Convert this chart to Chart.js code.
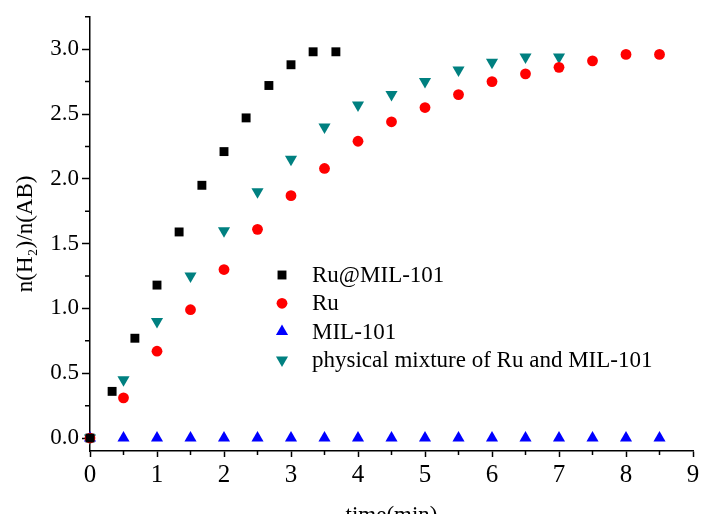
<!DOCTYPE html>
<html>
<head>
<meta charset="utf-8">
<script src="https://cdn.jsdelivr.net/npm/chart.js@4.4.1/dist/chart.umd.min.js"></script>
<style>
html,body{margin:0;padding:0;overflow:hidden;background:#fff;}
</style>
</head>
<body>
<canvas id="myChart" width="703" height="530"></canvas>
<script>
// series names
var seriesNames = ['Ru@MIL-101', 'Ru', 'MIL-101', 'physical mixture of Ru and MIL-101'];

// Ru@MIL-101
var ruMilX = [0, 0.33, 0.67, 1.0, 1.33, 1.67, 2.0, 2.33, 2.67, 3.0, 3.33, 3.67];
var ruMilY = [0, 0.36, 0.77, 1.18, 1.59, 1.95, 2.21, 2.47, 2.72, 2.88, 2.98, 2.98];

// Ru
var ruX = [0, 0.5, 1.0, 1.5, 2.0, 2.5, 3.0, 3.5, 4.0, 4.5, 5.0, 5.5, 6.0, 6.5, 7.0, 7.5, 8.0, 8.5];
var ruY = [0, 0.31, 0.67, 0.99, 1.30, 1.61, 1.87, 2.08, 2.29, 2.44, 2.55, 2.65, 2.75, 2.81, 2.86, 2.91, 2.96, 2.96];

// MIL-101
var milX = [0, 0.5, 1.0, 1.5, 2.0, 2.5, 3.0, 3.5, 4.0, 4.5, 5.0, 5.5, 6.0, 6.5, 7.0, 7.5, 8.0, 8.5];
var milY = [0, 0, 0, 0, 0, 0, 0, 0, 0, 0, 0, 0, 0, 0, 0, 0, 0, 0];

// physical mixture
var mixX = [0, 0.5, 1.0, 1.5, 2.0, 2.5, 3.0, 3.5, 4.0, 4.5, 5.0, 5.5, 6.0, 6.5, 7.0];
var mixY = [0, 0.45, 0.90, 1.25, 1.60, 1.90, 2.15, 2.40, 2.57, 2.65, 2.75, 2.84, 2.90, 2.94, 2.94];

// axis ticks
var xTicks = [0, 1, 2, 3, 4, 5, 6, 7, 8, 9];
var xMinor = [0.5, 1.5, 2.5, 3.5, 4.5, 5.5, 6.5, 7.5, 8.5];
var yTicks = [0, 0.5, 1.0, 1.5, 2.0, 2.5, 3.0];
var yMinor = [0.25, 0.75, 1.25, 1.75, 2.25, 2.75, 3.25];

var serif = "'Liberation Serif', 'Times New Roman', serif";

function pts(xs, ys){
	var out = [];
	for (var i = 0; i < xs.length; i++){
		out.push({x: xs[i], y: ys[i]});
	}
	return out;
}

function marker(ctx, style, x, y, r, rot){
	ctx.beginPath();
	if (style == 'rect'){
		var s = r * Math.SQRT1_2;
		ctx.rect(x - s, y - s, 2 * s, 2 * s);
	}
	else if (style == 'circle'){
		ctx.arc(x, y, r, 0, Math.PI * 2);
	}
	else {
		var a = (rot || 0) * Math.PI / 180;
		for (var k = 0; k < 3; k++){
			var px = x + Math.sin(a) * r;
			var py = y - Math.cos(a) * r;
			if (k == 0) ctx.moveTo(px, py); else ctx.lineTo(px, py);
			a += Math.PI * 2 / 3;
		}
		ctx.closePath();
	}
	ctx.fill();
}

// legend inside the plot + minor ticks
var extras = {
	id: 'extras',
	afterDraw: function(chart){
		var ctx = chart.ctx;
		var xs = chart.scales.x, ys = chart.scales.y;
		ctx.save();
		ctx.strokeStyle = '#000';
		ctx.lineWidth = 1.5;
		ctx.beginPath();
		xMinor.forEach(function(v){
			var px = xs.getPixelForValue(v);
			ctx.moveTo(px, xs.top);
			ctx.lineTo(px, xs.top + 4);
		});
		yMinor.forEach(function(v){
			var py = ys.getPixelForValue(v);
			ctx.moveTo(ys.right, py);
			ctx.lineTo(ys.right - 5, py);
		});
		ctx.stroke();

		ctx.font = '23px ' + serif;
		ctx.textBaseline = 'middle';
		ctx.textAlign = 'left';
		chart.data.datasets.forEach(function(ds, i){
			var y = 275 + i * 28.3;
			ctx.fillStyle = ds.backgroundColor;
			marker(ctx, ds.pointStyle, 282, y, ds.pointRadius, ds.pointRotation);
			ctx.fillStyle = '#000';
			ctx.fillText(seriesNames[i], 312, y + 1);
		});
		ctx.restore();
	}
};

var ctx = document.getElementById('myChart').getContext('2d');
var myChart = new Chart(ctx, {
	type: 'scatter',
	data: {
		datasets: [{
			label: seriesNames[0],
			data: pts(ruMilX, ruMilY),
			pointStyle: 'rect',
			pointRadius: 6.3,
			backgroundColor: '#000000',
			borderWidth: 0,
			clip: false
		}, {
			label: seriesNames[1],
			data: pts(ruX, ruY),
			pointStyle: 'circle',
			pointRadius: 5.4,
			backgroundColor: '#ff0000',
			borderWidth: 0,
			clip: false
		}, {
			label: seriesNames[2],
			data: pts(milX, milY),
			pointStyle: 'triangle',
			pointRadius: 7,
			pointRotation: 0,
			backgroundColor: '#0000ff',
			borderWidth: 0,
			clip: false
		}, {
			label: seriesNames[3],
			data: pts(mixX, mixY),
			pointStyle: 'triangle',
			pointRadius: 7,
			pointRotation: 180,
			backgroundColor: '#008080',
			borderWidth: 0,
			clip: false
		}]
	},
	options: {
		responsive: false,
		animation: false,
		layout: { padding: { top: 14, right: 10, left: 0, bottom: 0 } },
		plugins: {
			legend: { display: false },
			tooltip: { enabled: false }
		},
		scales: {
			x: {
				type: 'linear',
				min: 0,
				max: 9,
				afterBuildTicks: function(s){ s.ticks = xTicks.map(function(v){ return {value: v}; }); },
				afterFit: function(s){ s.height = 79; },
				grid: { drawOnChartArea: false, color: '#000', tickLength: 6, tickWidth: 1.5 },
				border: { color: '#000', width: 1.5 },
				ticks: { color: '#000', font: { family: serif, size: 25 }, padding: 3, maxRotation: 0,
					callback: function(v){ return v; } },
				title: { display: true, text: 'time(min)', color: '#000', font: { family: serif, size: 23 },
					padding: { top: 0, bottom: 0 } }
			},
			y: {
				type: 'linear',
				min: -0.1,
				max: 3.25,
				afterBuildTicks: function(s){ s.ticks = yTicks.map(function(v){ return {value: v}; }); },
				afterFit: function(s){ s.width = 90; },
				grid: { drawOnChartArea: false, color: '#000', tickLength: 8, tickWidth: 1.5 },
				border: { color: '#000', width: 1.5 },
				ticks: { color: '#000', font: { family: serif, size: 23 }, padding: 3,
					callback: function(v){ return Number(v).toFixed(1); } },
				title: { display: true, text: 'n(H\u2082)/n(AB)', color: '#000', font: { family: serif, size: 23 },
					padding: { top: 12, bottom: 0 } }
			}
		}
	},
	plugins: [extras]
});
</script>
</body>
</html>
